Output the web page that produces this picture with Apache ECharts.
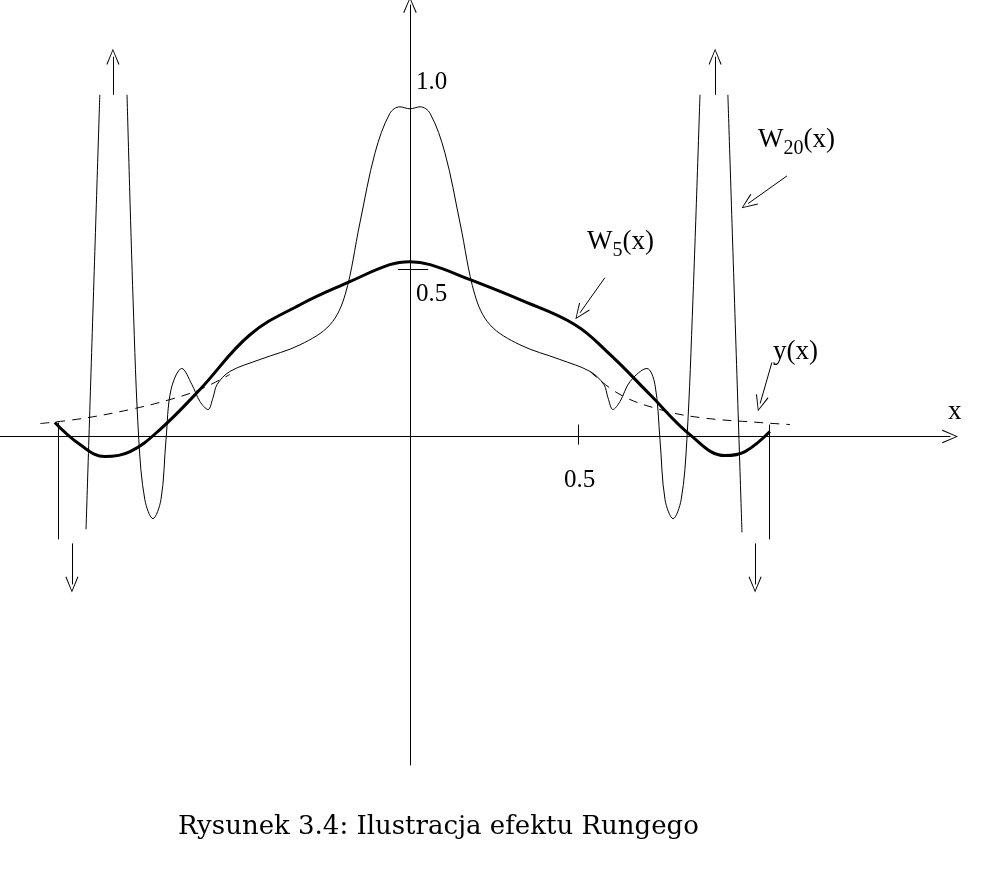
<!DOCTYPE html>
<html>
<head>
<meta charset="utf-8">
<script src="https://cdn.jsdelivr.net/npm/echarts@6/dist/echarts.min.js"></script>
<style>html,body{margin:0;padding:0;background:#fff}#chart{width:992px;height:875px}</style>
</head>
<body>
<div id="chart"></div>
<script>
// values (x, y)
const runge = [[-1.1,0.039],[-0.976,0.054],[-0.833,0.081],[-0.714,0.111],[-0.625,0.141],[-0.536,0.186],null,
  [0.536,0.195],[0.625,0.126],[0.744,0.081],[0.863,0.057],[1.042,0.042],[1.131,0.036]];
const w5 = [[-1.057,0.042],[-0.982,-0.024],[-0.908,-0.060],[-0.833,-0.045],[-0.744,0.021],[-0.625,0.141],
  [-0.476,0.305],[-0.327,0.395],[-0.179,0.464],[-0.060,0.515],[0,0.524],[0.060,0.515],[0.179,0.470],
  [0.327,0.410],[0.491,0.335],[0.595,0.246],[0.714,0.126],[0.833,0.006],[0.938,-0.057],[0.997,-0.045],[1.071,0.015]];
const w20 = [[-0.964,-0.278],[-0.923,1.024],null,[-0.842,1.024],[-0.824,0.410],[-0.807,-0.009],[-0.789,-0.189],
  [-0.765,-0.246],[-0.741,-0.189],[-0.726,-0.009],[-0.711,0.141],[-0.679,0.204],[-0.649,0.156],[-0.625,0.105],
  [-0.601,0.081],[-0.586,0.117],[-0.574,0.156],[-0.536,0.195],[-0.446,0.231],[-0.327,0.275],[-0.238,0.335],
  [-0.193,0.425],[-0.149,0.640],[-0.104,0.850],[-0.060,0.968],[-0.030,0.988],[0,0.982],[0.030,0.988],
  [0.060,0.968],[0.104,0.850],[0.149,0.640],[0.193,0.425],[0.238,0.335],[0.327,0.275],[0.446,0.231],
  [0.536,0.195],[0.577,0.156],[0.589,0.117],[0.604,0.081],[0.625,0.105],[0.655,0.165],[0.705,0.204],
  [0.729,0.156],[0.744,-0.009],[0.759,-0.189],[0.783,-0.246],[0.807,-0.189],[0.824,-0.009],[0.842,0.410],
  [0.863,1.024],null,[0.946,1.024],[0.988,-0.287]];
// end bars and off-scale arrows
const endBars = [[[-1.048,0.042],[-1.048,-0.308]],[[1.068,0.036],[1.068,-0.308]]];
const offArrows = [[[-1.006,-0.32],[-1.006,-0.443]],[[1.027,-0.32],[1.027,-0.443]],
  [[-0.884,1.024],[-0.884,1.138]],[[0.908,1.024],[0.908,1.138]]];
const tickMarks = [[[0.5,0.036],[0.5,-0.024]],[[-0.036,0.5],[0.054,0.5]]];
const pointers = [[[1.122,0.781],[1.006,0.698]],[[0.580,0.476],[0.506,0.371]],[[1.077,0.222],[1.042,0.099]]];

const vee = 'path://M0,0 L7,16 L6,16.6 L0,2.2 L-6,16.6 L-7,16 Z';
const serif = 'Liberation Serif';

const chart = echarts.init(document.getElementById('chart'));
const seg = (arr) => arr.map(p => [{coord: p[0]}, {coord: p[1]}]);
chart.setOption({
  animation: false,
  grid: {left: 0, right: 42, top: 5, bottom: 110},
  xAxis: {type: 'value', min: -1.22, max: 1.607,
    axisLine: {onZero: true, lineStyle: {color: '#000', width: 1}, symbol: ['none', vee], symbolSize: [14, 16]},
    axisTick: {show: false}, axisLabel: {show: false}, splitLine: {show: false}},
  yAxis: {type: 'value', min: -0.984, max: 1.293,
    axisLine: {onZero: true, lineStyle: {color: '#000', width: 1}, symbol: ['none', vee], symbolSize: [14, 16]},
    axisTick: {show: false}, axisLabel: {show: false}, splitLine: {show: false}},
  series: [
    {name: 'y(x)', type: 'line', data: runge, smooth: 0.4, showSymbol: false,
      lineStyle: {color: '#000', width: 1, type: [9, 7]}},
    {name: 'W20(x)', type: 'line', data: w20, smooth: 0.35, showSymbol: false,
      lineStyle: {color: '#000', width: 1}},
    {name: 'W5(x)', type: 'line', data: w5, smooth: 0.4, showSymbol: false,
      lineStyle: {color: '#000', width: 3}},
    {type: 'line', data: [], silent: true,
      markLine: {silent: true, symbol: 'none', label: {show: false},
        lineStyle: {color: '#000', width: 1, type: 'solid'},
        data: seg(endBars).concat(seg(tickMarks))}},
    {type: 'line', data: [], silent: true,
      markLine: {silent: true, symbol: ['none', vee], symbolSize: [13, 16], label: {show: false},
        lineStyle: {color: '#000', width: 1, type: 'solid'},
        data: seg(offArrows).concat(seg(pointers))}}
  ],
  graphic: [
    {type: 'text', left: 416, top: 70, style: {text: '1.0', font: '25px ' + serif, fill: '#000'}},
    {type: 'text', left: 416, top: 282, style: {text: '0.5', font: '25px ' + serif, fill: '#000'}},
    {type: 'text', left: 564, top: 468, style: {text: '0.5', font: '25px ' + serif, fill: '#000'}},
    {type: 'text', left: 948, top: 398, style: {text: 'x', font: '27px ' + serif, fill: '#000'}},
    {type: 'text', left: 758, top: 126, style: {text: 'W{s|20}(x)', font: '27px ' + serif, fill: '#000',
      rich: {s: {font: '20px ' + serif, padding: [18, 0, 0, 0]}}}},
    {type: 'text', left: 587, top: 228, style: {text: 'W{s|5}(x)', font: '27px ' + serif, fill: '#000',
      rich: {s: {font: '20px ' + serif, padding: [18, 0, 0, 0]}}}},
    {type: 'text', left: 773, top: 338, style: {text: 'y(x)', font: '27px ' + serif, fill: '#000'}},
    {type: 'text', left: 178, top: 814, style: {text: 'Rysunek 3.4: Ilustracja efektu Rungego',
      font: '26px DejaVu Serif', fill: '#000'}}
  ]
});
</script>
</body>
</html>
